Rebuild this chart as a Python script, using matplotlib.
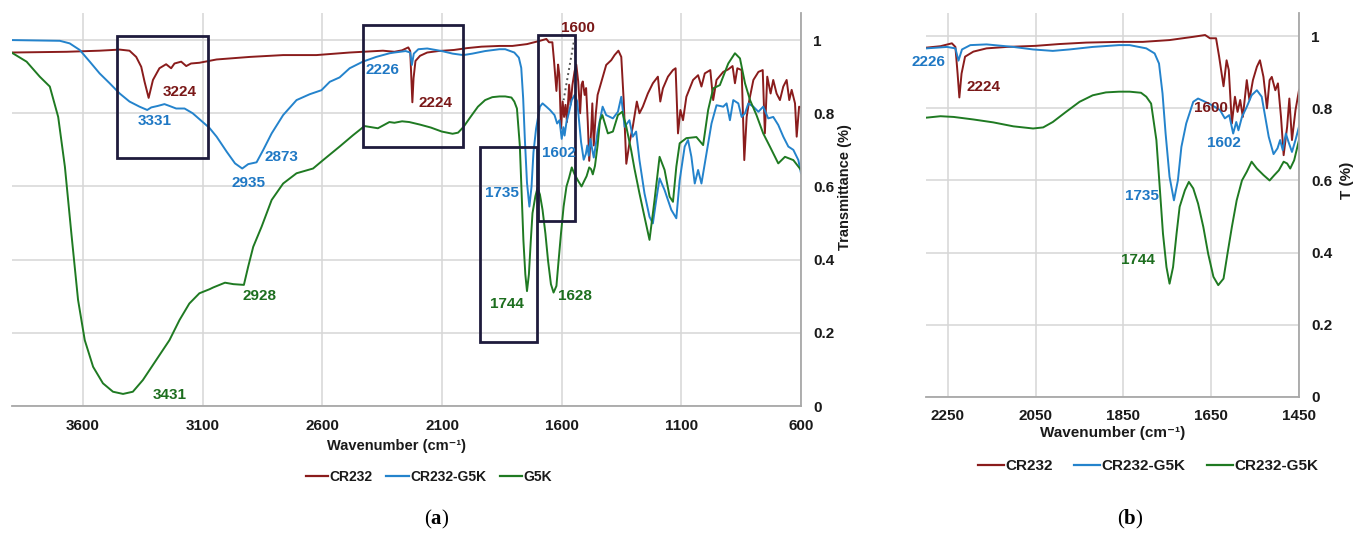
import matplotlib
matplotlib.use("Agg")
import matplotlib.pyplot as plt
from matplotlib.patches import Rectangle
from matplotlib.lines import Line2D

plt.rcParams['font.family'] = ['Liberation Sans', 'DejaVu Sans']
plt.rcParams['mathtext.fontset'] = 'custom'
plt.rcParams['mathtext.rm'] = 'Liberation Serif'
plt.rcParams['mathtext.bf'] = 'Liberation Serif:bold'

# ---------------- data ----------------
cr232_wn = [3899, 3669, 3531, 3447, 3406, 3378, 3357, 3343, 3326, 3308, 3281, 3253, 3232, 3218,
            3190, 3169, 3149, 3114, 3042, 2903, 2764, 2625, 2486, 2347,
            2299, 2267, 2241, 2233, 2228, 2224, 2219, 2211, 2192, 2162, 2116, 2050, 1996, 1935,
            1860, 1806, 1745, 1691, 1664, 1653, 1639, 1632, 1622, 1615, 1610, 1603, 1596, 1590,
            1584, 1578, 1569, 1563, 1555, 1546, 1539, 1531, 1523, 1517, 1512, 1504, 1498, 1491,
            1485, 1477, 1472, 1466, 1458, 1450,
            1414, 1393, 1379, 1363, 1351, 1341, 1330, 1317, 1303, 1286, 1275, 1261, 1240, 1219,
            1198, 1188, 1177, 1156, 1135, 1124, 1114, 1104, 1093, 1079, 1051, 1030, 1016, 1002,
            979, 967, 953, 925, 904, 886, 876, 866, 848, 837, 827, 816, 799, 778, 760, 751, 741,
            727, 716, 702, 688, 674, 660, 649, 639, 625, 618, 608, 600]
cr232_t = [0.966, 0.968, 0.971, 0.974, 0.971, 0.954, 0.927, 0.886, 0.842, 0.891, 0.923, 0.934, 0.923, 0.936,
           0.941, 0.929, 0.936, 0.938, 0.947, 0.954, 0.959, 0.959, 0.966, 0.971,
           0.968, 0.972, 0.980, 0.970, 0.896, 0.830, 0.896, 0.943, 0.957, 0.966, 0.970, 0.973, 0.978, 0.982,
           0.984, 0.984, 0.989, 0.998, 1.003, 0.994, 0.994, 0.943, 0.861, 0.933, 0.906, 0.758, 0.832, 0.790,
           0.823, 0.776, 0.878, 0.823, 0.878, 0.915, 0.933, 0.887, 0.800, 0.878, 0.887, 0.850, 0.869, 0.776,
           0.670, 0.749, 0.827, 0.712, 0.795, 0.850,
           0.932, 0.945, 0.959, 0.971, 0.954, 0.836, 0.662, 0.718, 0.763, 0.832, 0.800, 0.818, 0.854, 0.882,
           0.900, 0.832, 0.868, 0.900, 0.918, 0.923, 0.745, 0.809, 0.781, 0.845, 0.891, 0.904, 0.873, 0.909,
           0.918, 0.836, 0.891, 0.913, 0.920, 0.929, 0.882, 0.923, 0.918, 0.672, 0.790, 0.836, 0.891, 0.913,
           0.918, 0.745, 0.900,
           0.854, 0.891, 0.854, 0.836, 0.873, 0.891, 0.836, 0.864, 0.827, 0.736, 0.818, 0.816]

blend_wn = [3899, 3697, 3656, 3614, 3572, 3531, 3489, 3447, 3406, 3364, 3332, 3315, 3288, 3260, 3239,
            3211, 3176, 3142, 3107, 3072, 3042, 3000, 2965, 2935, 2910, 2875, 2847, 2812, 2764, 2708,
            2653, 2604, 2569, 2528, 2486, 2431, 2375, 2319,
            2299, 2252, 2233, 2226, 2218, 2199, 2162, 2101, 2056, 2011, 1973, 1920, 1860, 1836, 1798,
            1779, 1769, 1761, 1754, 1745, 1735, 1726, 1718, 1707, 1691, 1680, 1664, 1649, 1630, 1619,
            1609, 1600, 1593, 1588, 1580, 1569, 1558, 1546, 1535, 1527, 1519, 1508, 1499, 1493, 1487,
            1480, 1474, 1466, 1458, 1450,
            1429, 1414, 1386, 1365, 1351, 1337, 1317, 1303, 1289, 1275, 1254, 1233, 1219, 1205, 1191,
            1170, 1142, 1121, 1107, 1086, 1072, 1058, 1044, 1030, 1016, 995, 974, 953, 925, 911, 897,
            883, 862, 848, 834, 820, 799, 778, 758, 737, 716, 695, 674, 653, 632, 611, 600]
blend_t = [1.000, 0.998, 0.991, 0.973, 0.941, 0.909, 0.882, 0.854, 0.832, 0.818, 0.809, 0.816, 0.820, 0.825, 0.820,
           0.813, 0.813, 0.800, 0.780, 0.760, 0.736, 0.695, 0.663, 0.649, 0.661, 0.666, 0.700, 0.745, 0.795, 0.836,
           0.852, 0.863, 0.886, 0.898, 0.923, 0.941, 0.954, 0.964,
           0.966, 0.970, 0.966, 0.932, 0.963, 0.975, 0.977, 0.970, 0.963, 0.959, 0.963, 0.970, 0.975, 0.975, 0.966,
           0.952, 0.924, 0.841, 0.730, 0.610, 0.545, 0.600, 0.693, 0.758, 0.818, 0.827, 0.818, 0.809, 0.795, 0.772,
           0.781, 0.730, 0.762, 0.739, 0.776, 0.804, 0.836, 0.850, 0.832, 0.776, 0.721, 0.673, 0.689, 0.712, 0.684,
           0.730, 0.707, 0.679, 0.712, 0.749,
           0.818, 0.795, 0.786, 0.804, 0.845, 0.763, 0.781, 0.736, 0.750, 0.672, 0.581, 0.517, 0.499, 0.563, 0.622,
           0.590, 0.536, 0.513, 0.617, 0.709, 0.727, 0.681, 0.608, 0.645, 0.608, 0.690, 0.772, 0.822, 0.818, 0.827,
           0.781, 0.836, 0.827, 0.790, 0.800, 0.827, 0.818, 0.804, 0.818, 0.786, 0.790, 0.768, 0.736, 0.709, 0.700,
           0.672, 0.636]

g5k_wn = [3899, 3836, 3781, 3739, 3704, 3676, 3649, 3621, 3593, 3558, 3517, 3475, 3433, 3392, 3350,
          3294, 3239, 3197, 3156, 3114, 3072, 3056, 3007, 2972, 2928, 2910, 2889, 2854, 2812, 2764,
          2708, 2639, 2597, 2528, 2472, 2424, 2368, 2320,
          2299, 2267, 2237, 2192, 2147, 2101, 2056, 2033, 2011, 1981, 1950, 1920, 1890, 1860, 1836,
          1810, 1798, 1787, 1775, 1768, 1760, 1752, 1745, 1737, 1729, 1722, 1710, 1701, 1691, 1680,
          1668, 1657, 1645, 1634, 1622, 1613, 1603, 1592, 1580, 1569, 1558, 1546, 1531, 1517, 1506,
          1496, 1485, 1477, 1470, 1461, 1450,
          1440, 1430, 1407, 1386, 1365, 1347, 1330, 1310, 1296, 1275, 1254, 1233, 1212, 1191, 1170,
          1149, 1135, 1121, 1107, 1079, 1037, 1009, 988, 967, 939, 904, 876, 855, 834, 813, 786,
          758, 730, 695, 667, 632, 600]
g5k_t = [0.966, 0.941, 0.900, 0.873, 0.790, 0.654, 0.472, 0.290, 0.180, 0.107, 0.062, 0.039, 0.033, 0.039, 0.071,
         0.126, 0.180, 0.235, 0.280, 0.308, 0.319, 0.324, 0.337, 0.333, 0.331, 0.381, 0.435, 0.490, 0.563, 0.608,
         0.636, 0.649, 0.672, 0.709, 0.740, 0.765, 0.759, 0.776,
         0.774, 0.778, 0.776, 0.769, 0.761, 0.750, 0.744, 0.747, 0.762, 0.790, 0.818, 0.836, 0.844, 0.846, 0.846,
         0.843, 0.832, 0.813, 0.712, 0.592, 0.453, 0.360, 0.314, 0.360, 0.453, 0.527, 0.573, 0.596, 0.578, 0.536,
         0.471, 0.397, 0.333, 0.310, 0.328, 0.397, 0.471, 0.545, 0.600, 0.624, 0.652, 0.633, 0.615, 0.600, 0.615,
         0.628, 0.652, 0.647, 0.633, 0.656, 0.712,
         0.780, 0.795, 0.745, 0.750, 0.795, 0.804, 0.763, 0.700, 0.649, 0.581, 0.517, 0.454, 0.563, 0.681, 0.645,
         0.572, 0.558, 0.654, 0.718, 0.732, 0.735, 0.713, 0.809, 0.868, 0.877, 0.936, 0.964, 0.950, 0.882, 0.836,
         0.795, 0.745, 0.709, 0.663, 0.681, 0.672, 0.645]

left_xticks = [3600, 3100, 2600, 2100, 1600, 1100, 600]
right_xticks = [2250, 2050, 1850, 1650, 1450]
yticks = [0, 0.2, 0.4, 0.6, 0.8, 1.0]
ytick_labels = ['0', '0.2', '0.4', '0.6', '0.8', '1']

# highlighted regions in panel (a): (wn_low, wn_high, T_low, T_high)
boxes = [(3080, 3460, 0.678, 1.011), (2012, 2430, 0.708, 1.041),
         (1703, 1943, 0.175, 0.708), (1543, 1697, 0.506, 1.013)]

# peak labels: (text, wn, T, series)
left_labels = [('3224', 3196, 0.858, 'r'), ('3331', 3301, 0.779, 'b'), ('2873', 2770, 0.680, 'b'),
               ('2935', 2909, 0.609, 'b'), ('2928', 2864, 0.300, 'g'), ('3431', 3238, 0.030, 'g'),
               ('2226', 2347, 0.918, 'b'), ('2224', 2126, 0.828, 'r'), ('1600', 1533, 1.033, 'r'),
               ('1602', 1612, 0.691, 'b'), ('1735', 1850, 0.582, 'b'), ('1744', 1829, 0.279, 'g'),
               ('1628', 1543, 0.300, 'g')]
right_labels = [('2226', 2295, 0.928, 'b'), ('2224', 2168, 0.859, 'r'), ('1600', 1650, 0.800, 'r'),
                ('1602', 1620, 0.703, 'b'), ('1735', 1809, 0.557, 'b'), ('1744', 1818, 0.380, 'g')]

# ---------------- styling ----------------
RED, BLUE, GREEN = '#8a1c1c', '#2483cc', '#1f7a22'
LRED, LBLUE, LGREEN = '#7a1818', '#1f78c4', '#1d6e1f'
lab_col = {'r': LRED, 'b': LBLUE, 'g': LGREEN}
W, H = 1355, 533
fig = plt.figure(figsize=(W / 100, H / 100), dpi=100)

axA = fig.add_axes([12 / W, (H - 406) / H, 789 / W, 393 / H])
axB = fig.add_axes([926 / W, (H - 397) / H, 373 / W, 384 / H])


def style(ax, xticks, xlim, ylim):
    ax.set_xlim(*xlim)
    ax.set_ylim(*ylim)
    ax.set_xticks(xticks)
    ax.set_yticks(yticks)
    ax.set_yticklabels(ytick_labels)
    ax.yaxis.tick_right()
    ax.yaxis.set_label_position('right')
    for s in ['top', 'left']:
        ax.spines[s].set_visible(False)
    for s in ['bottom', 'right']:
        ax.spines[s].set_color('#a8a8a8')
        ax.spines[s].set_linewidth(1.3)
    ax.grid(True, color='#d6d6d6', lw=1.1)
    ax.set_axisbelow(True)
    ax.tick_params(axis='both', length=0, labelsize=11, labelcolor='#1a1a1a')
    ax.tick_params(axis='x', pad=9)
    ax.tick_params(axis='y', pad=9)
    for lab in ax.get_xticklabels() + ax.get_yticklabels():
        lab.set_fontweight('bold')


style(axA, left_xticks, (3897, 600), (0, 1.074))
style(axB, right_xticks, (2300, 1450), (0, 1.064))

for ax in (axA, axB):
    ax.plot(cr232_wn, cr232_t, color=RED, lw=1.4)
    ax.plot(blend_wn, blend_t, color=BLUE, lw=1.4)
    ax.plot(g5k_wn, g5k_t, color=GREEN, lw=1.4)

for (x0, x1, y0, y1) in boxes:
    axA.add_patch(Rectangle((x0, y0), x1 - x0, y1 - y0, fill=False, ec='#1e1b3c', lw=2.0, zorder=5))
axA.plot([1550, 1592], [0.993, 0.836], color='#555555', ls=':', lw=1.4, zorder=6)

for txt, x, y, c in left_labels:
    axA.text(x, y, txt, color=lab_col[c], fontsize=11, fontweight='bold', ha='center', va='center',
             zorder=7, clip_on=False)
for txt, x, y, c in right_labels:
    axB.text(x, y, txt, color=lab_col[c], fontsize=11, fontweight='bold', ha='center', va='center',
             zorder=7, clip_on=False)

# axis labels
axA.set_xlabel('Wavenumber (cm⁻¹)', fontsize=10.5, fontweight='bold', color='#1a1a1a')
axA.xaxis.set_label_coords(0.487, -0.085)
axA.set_ylabel('Transmittance (%)', fontsize=10.5, fontweight='bold', color='#1a1a1a', rotation=90)
axA.yaxis.label.set_va('center')
axA.yaxis.set_label_coords(1.056, 0.557)

axB.set_xlabel('Wavenumber (cm⁻¹)', fontsize=11, fontweight='bold', color='#1a1a1a')
axB.xaxis.set_label_coords(0.5, -0.075)
axB.set_ylabel('T (%)', fontsize=11, fontweight='bold', color='#1a1a1a', rotation=90)
axB.yaxis.label.set_va('center')
axB.yaxis.set_label_coords(1.129, 0.565)

# legends
hA = [Line2D([], [], color=RED, lw=1.6), Line2D([], [], color=BLUE, lw=1.6), Line2D([], [], color=GREEN, lw=1.6)]
legA = fig.legend(hA, ['CR232', 'CR232-G5K', 'G5K'], loc='center', bbox_to_anchor=(429 / W, (H - 477) / H),
                  ncol=3, frameon=False, handlelength=1.6, handletextpad=0.1, columnspacing=1.0,
                  prop={'size': 10, 'weight': 'bold'})
legB = fig.legend(hA, ['CR232', 'CR232-G5K', 'CR232-G5K'], loc='center',
                  bbox_to_anchor=(1148 / W, (H - 466) / H), ncol=3, frameon=False, handlelength=1.7,
                  handletextpad=0.1, columnspacing=1.4, prop={'size': 11, 'weight': 'bold'})
for leg in (legA, legB):
    for t in leg.get_texts():
        t.set_color('#1a1a1a')

fig.text(437 / W, (H - 519) / H, r'$(\mathbf{a})$', fontsize=15, ha='center', va='center')
fig.text(1130 / W, (H - 519) / H, r'$(\mathbf{b})$', fontsize=15, ha='center', va='center')

fig.savefig('out.png', dpi=100)
